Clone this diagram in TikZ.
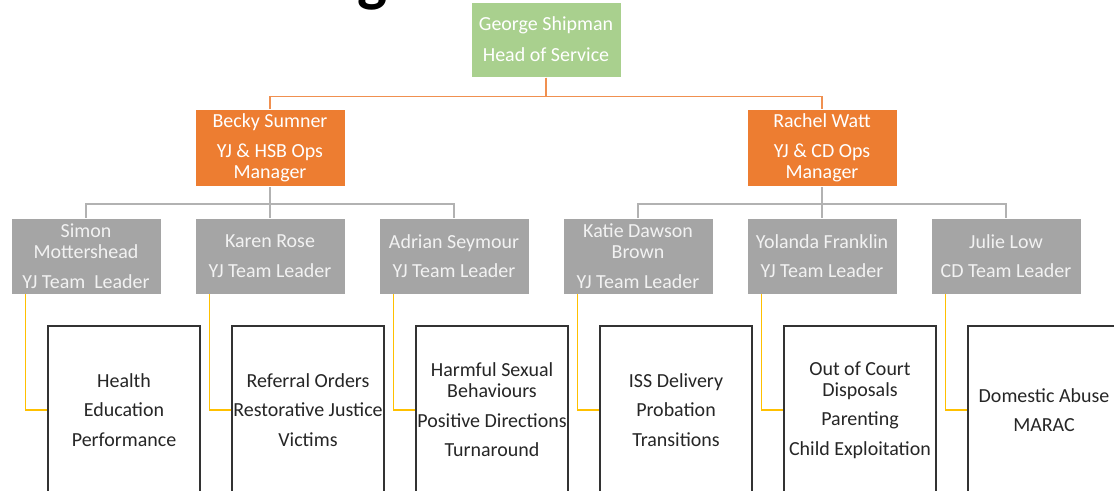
\documentclass[tikz,border=0pt]{standalone}
\usepackage{fontspec}
\setmainfont{Carlito}
\definecolor{headgreen}{HTML}{A9D08E}
\definecolor{mgrorange}{HTML}{ED7D31}
\definecolor{leadgray}{HTML}{A5A5A5}
\definecolor{linkgold}{HTML}{FFC000}
\tikzset{
  base/.style = {
    rectangle, draw=white, line width=0.6pt, inner xsep=0pt,
    minimum width=3.75cm, minimum height=1.9cm, align=center,
    font=\fontsize{14.2}{15}\selectfont
  },
  head/.style = {
    base, fill=headgreen, text=white, minimum height=1.875cm
  },
  manager/.style = {
    base, fill=mgrorange, text=white
  },
  leader/.style = {
    base, fill=leadgray, text=white!95!black
  },
  service/.style = {
    base, draw=black!80, line width=0.9pt, fill=white, text=black!85,
    minimum width=3.8cm, minimum height=4.2cm
  },
  headline/.style = {draw=mgrorange!85!white, line width=1.1pt},
  mgrline/.style = {draw=leadgray!85!white, line width=1.4pt},
  teamline/.style = {draw=linkgold, line width=1.1pt},
}

\begin{document}
\begin{tikzpicture}[node distance=4.6cm]
  \useasboundingbox (0,0) rectangle (27.85,-12.275);
  \node (ttl) [anchor=base, font=\fontsize{45}{45}\selectfont\bfseries] at (9.3,0) {g};
  \node (george) [head] at (13.65,-0.99) {George Shipman\\[7pt]Head of Service};
  \node (becky) [manager] at (6.75,-3.7) {Becky Sumner\\[6pt]YJ \& HSB Ops\\Manager};
  \node (rachel) [manager, right of=becky, node distance=13.8cm] {Rachel Watt\\[6pt]YJ \& CD Ops\\Manager};
  \node (karen) [leader, below of=becky, node distance=2.7cm] {Karen Rose\\[6pt]YJ Team Leader};
  \node (simon) [leader, left of=karen] {Simon\\Mottershead\\[6pt]YJ Team~~Leader};
  \node (adrian) [leader, right of=karen] {Adrian Seymour\\[6pt]YJ Team Leader};
  \node (yolanda) [leader, below of=rachel, node distance=2.7cm] {Yolanda Franklin\\[6pt]YJ Team Leader};
  \node (katie) [leader, left of=yolanda] {Katie Dawson\\Brown\\[6pt]YJ Team Leader};
  \node (julie) [leader, right of=yolanda] {Julie Low\\[6pt]CD Team Leader};
  \node (health) [service, below of=simon, node distance=3.85cm, xshift=0.95cm] {Health\\[6pt]Education\\[6pt]Performance};
  \node (referral) [service, below of=karen, node distance=3.85cm, xshift=0.95cm] {Referral Orders\\[6pt]Restorative Justice\\[6pt]Victims};
  \node (harmful) [service, below of=adrian, node distance=3.85cm, xshift=0.95cm] {Harmful Sexual\\Behaviours\\[6pt]Positive Directions\\[6pt]Turnaround};
  \node (iss) [service, below of=katie, node distance=3.85cm, xshift=0.95cm] {ISS Delivery\\[6pt]Probation\\[6pt]Transitions};
  \node (court) [service, below of=yolanda, node distance=3.85cm, xshift=0.95cm] {Out of Court\\Disposals\\[6pt]Parenting\\[6pt]Child Exploitation};
  \node (abuse) [service, below of=julie, node distance=3.85cm, xshift=0.95cm] {Domestic Abuse\\[6pt]MARAC};
  \draw[headline] (george.south) -- ++(0,-0.475) -| (becky.north);
  \draw[headline] (george.south) -- ++(0,-0.475) -| (rachel.north);
  \draw[mgrline] (becky.south) -- ++(0,-0.425) -| (simon.north);
  \draw[mgrline] (becky.south) -- ++(0,-0.425) -| (karen.north);
  \draw[mgrline] (becky.south) -- ++(0,-0.425) -| (adrian.north);
  \draw[mgrline] (rachel.south) -- ++(0,-0.425) -| (katie.north);
  \draw[mgrline] (rachel.south) -- ++(0,-0.425) -| (yolanda.north);
  \draw[mgrline] (rachel.south) -- ++(0,-0.425) -| (julie.north);
  \draw[teamline] ([xshift=0.375cm]simon.south west) |- (health.west);
  \draw[teamline] ([xshift=0.375cm]karen.south west) |- (referral.west);
  \draw[teamline] ([xshift=0.375cm]adrian.south west) |- (harmful.west);
  \draw[teamline] ([xshift=0.375cm]katie.south west) |- (iss.west);
  \draw[teamline] ([xshift=0.375cm]yolanda.south west) |- (court.west);
  \draw[teamline] ([xshift=0.375cm]julie.south west) |- (abuse.west);
\end{tikzpicture}
\end{document}
